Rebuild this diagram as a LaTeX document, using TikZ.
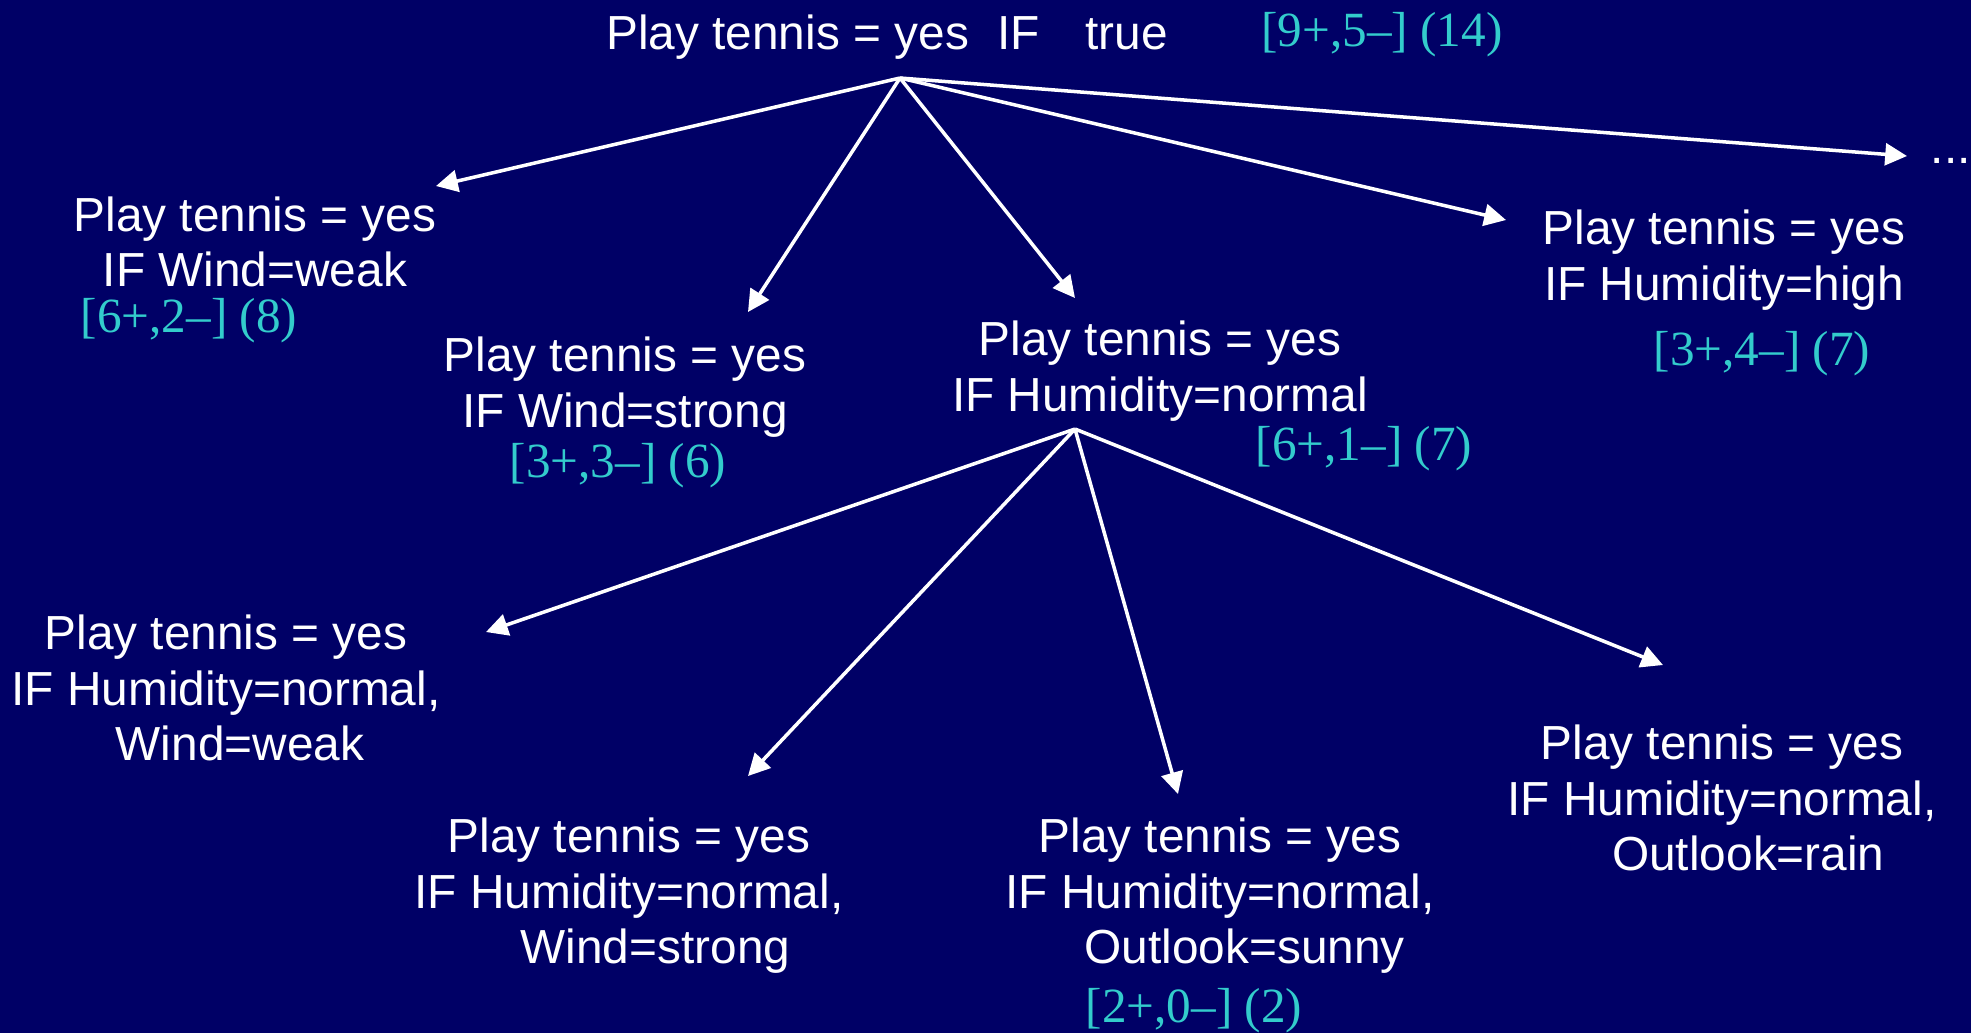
\documentclass[tikz,border=0pt]{standalone}
\usepackage{fontspec}
\setmainfont{Liberation Sans}
\newfontfamily\sayiFont{Liberation Serif}
\usetikzlibrary{arrows.meta}
\definecolor{lacivert}{HTML}{000066}
\definecolor{turkuaz}{HTML}{33CCCC}
\tikzset{
  kural/.style={text=white,align=center,inner sep=0pt,font=\fontsize{13.6}{15.8}\selectfont},
  sayi/.style={text=turkuaz,inner sep=0pt,font=\sayiFont\fontsize{14}{16}\selectfont},
  ok/.style={white,line width=1pt,-{Triangle[length=6.2pt,width=6.2pt]}}
}

\begin{document}
\begin{tikzpicture}
\fill[lacivert] (0,0) rectangle (19.71,-10.33);
% ust kural
\node[kural] (kok) at (8.87,-0.37) {Play tennis = yes\hspace{8pt}IF\hspace{13pt}true};
\node[sayi] (kokSayi) at (13.82,-0.35) {[9+,5–] (14)};
% ilk seviye
\node[kural] (ruzgarZayif) at (2.55,-2.42) {Play tennis = yes\\IF Wind=weak};
\node[sayi] (ruzgarZayifSayi) at (1.89,-3.21) {[6+,2–] (8)};
\node[kural] (ruzgarGuclu) at (6.25,-3.87) {Play tennis = yes\\IF Wind=strong};
\node[sayi] (ruzgarGucluSayi) at (6.18,-4.66) {[3+,3–] (6)};
\node[kural] (nemNormal) at (11.60,-3.71) {Play tennis = yes\\IF Humidity=normal};
\node[sayi] (nemNormalSayi) at (13.64,-4.49) {[6+,1–] (7)};
\node[kural] (nemYuksek) at (17.24,-2.60) {Play tennis = yes\\IF Humidity=high};
\node[sayi] (nemYuksekSayi) at (17.62,-3.54) {[3+,4–] (7)};
\node[kural,anchor=base west] (devam) at (19.30,-1.63) {...};
% ikinci seviye
\node[kural] (nemRuzgarZayif) at (2.26,-6.88) {Play tennis = yes\\IF Humidity=normal,\\\hspace{8pt}Wind=weak};
\node[kural] (nemRuzgarGuclu) at (6.29,-8.96) {Play tennis = yes\\IF Humidity=normal,\\\hspace{15pt}Wind=strong};
\node[kural] (nemGunesli) at (12.20,-8.96) {Play tennis = yes\\IF Humidity=normal,\\\hspace{14pt}Outlook=sunny};
\node[sayi] (nemGunesliSayi) at (11.94,-10.11) {[2+,0–] (2)};
\node[kural] (nemYagmur) at (17.22,-7.98) {Play tennis = yes\\IF Humidity=normal,\\\hspace{15pt}Outlook=rain};
% ok uclari
\coordinate (catal1) at (9.00,-0.78);
\coordinate (catal2) at (10.75,-4.29);
\coordinate (ucA) at (4.36,-1.86);
\coordinate (ucB) at (7.48,-3.12);
\coordinate (ucC) at (10.75,-2.98);
\coordinate (ucD) at (15.06,-2.20);
\coordinate (ucE) at (19.07,-1.56);
\coordinate (ucF) at (4.86,-6.32);
\coordinate (ucG) at (7.48,-7.76);
\coordinate (ucH) at (11.78,-7.94);
\coordinate (ucI) at (16.63,-6.65);
\foreach \u in {ucA,ucB,ucC,ucD,ucE}
  \draw[ok] (catal1) -- (\u);
\foreach \u in {ucF,ucG,ucH,ucI}
  \draw[ok] (catal2) -- (\u);
\end{tikzpicture}
\end{document}
